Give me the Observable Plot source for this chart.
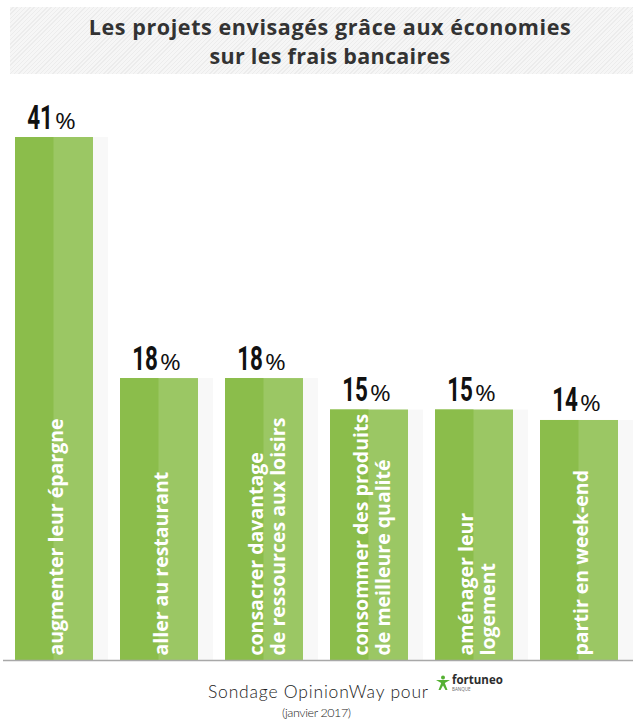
<!DOCTYPE html>
<html><head><meta charset="utf-8">
<script src="https://cdn.jsdelivr.net/npm/d3@7"></script>
<script src="https://cdn.jsdelivr.net/npm/@observablehq/plot@0.6"></script>
<style>
body{margin:0;background:#fff;}
#page{position:relative;width:633px;height:722px;overflow:hidden;background:#fff;}
#titlebox{position:absolute;left:10px;top:7px;width:623px;height:67px;background:repeating-linear-gradient(-45deg,#f6f6f6 0 2px,#ececec 2px 3px);}
#chart{position:absolute;left:0;top:80px;}
#overlay{position:absolute;left:0;top:0;pointer-events:none;}
</style></head>
<body><div id="page"><div id="titlebox"></div><div id="chart"></div><svg id="overlay" width="633" height="722"></svg></div>
<script>
const titleLines = ["Les projets envisagés grâce aux économies", "sur les frais bancaires"];
const categories = ["augmenter leur épargne", "aller au restaurant", "consacrer davantage\nde ressources aux loisirs", "consommer des produits\nde meilleure qualité", "aménager leur\nlogement", "partir en week-end"];
const values = [41, 18, 18, 15, 15, 14];
const unitLabel = "%";
const sourceText = "Sondage OpinionWay pour";
const brandText = "fortuneo";
const brandSub = "BANQUE";
const dateText = "(janvier 2017)";

const yBase = -8.9;
const data = categories.map((c, i) => ({cat: c, value: values[i]}));
// one row per label line, so each line is its own text element
const labelLines = categories.flatMap(c => {
  const parts = c.split("\n");
  return parts.map((t, j) => ({cat: c, text: t, slot: parts.length === 1 ? "single" : (j === 0 ? "first" : "second")}));
});

const numFont = 'Roboto,"DejaVu Sans",sans-serif';
const labFont = '"Open Sans",Lato,sans-serif';
const labStyle = {x: "cat", y: () => yBase, text: "text", rotate: -90, textAnchor: "start", lineAnchor: "middle", dy: -5, fontSize: 19.5, fontWeight: "bold", fontFamily: labFont, fill: "white"};

const chart = Plot.plot({
  width: 633, height: 590,
  marginTop: 57, marginBottom: 10, marginLeft: 13, marginRight: 12,
  x: {type: "band", domain: categories, paddingInner: 0.253, paddingOuter: 0, axis: null},
  y: {domain: [yBase, 41], axis: null},
  style: {background: "transparent"},
  marks: [
    Plot.barY(data, {x: "cat", y1: () => yBase, y2: "value", fill: "#f8f8f8", dx: 15}),
    Plot.barY(data, {x: "cat", y1: () => yBase, y2: "value", fill: "#9bc764"}),
    Plot.barY(data, {x: "cat", y1: () => yBase, y2: "value", fill: "#8bbd4b", insetRight: 39.5}),
    Plot.ruleY([yBase], {stroke: "#a8a8a8", strokeWidth: 1.5, insetLeft: -10, insetRight: -12}),
    Plot.text(data, {x: "cat", y: "value", text: d => String(d.value), textAnchor: "end", lineAnchor: "bottom", dy: -9, dx: -1.5, fontSize: 33, fontWeight: "bold", fontFamily: numFont, fill: "#111"}),
    Plot.text(data, {x: "cat", y: "value", text: () => unitLabel, textAnchor: "start", lineAnchor: "bottom", dy: -9, dx: 0.5, fontSize: 21, fontFamily: labFont, fill: "#111"}),
    Plot.text(labelLines.filter(d => d.slot === "single"), {...labStyle, dx: 2}),
    Plot.text(labelLines.filter(d => d.slot === "first"), {...labStyle, dx: -8}),
    Plot.text(labelLines.filter(d => d.slot === "second"), {...labStyle, dx: 14})
  ]
});
document.getElementById("chart").appendChild(chart);
// horizontal stretch about each text's anchor: condensed digits, wide percent sign (as in the original face)
function stretch(groupEl, sx) {
  d3.select(groupEl).selectAll("text").each(function() {
    const x = +(this.getAttribute("x") || 0), y = +(this.getAttribute("y") || 0);
    const tr = this.getAttribute("transform") || "";
    this.setAttribute("transform", `${tr} translate(${x},${y}) scale(${sx},1) translate(${-x},${-y})`.trim());
  });
}
const textGroups = chart.querySelectorAll('g[aria-label="text"]');
stretch(textGroups[0], 0.68);
stretch(textGroups[1], 1.2);

const ov = d3.select("#overlay");
ov.selectAll("text.t").data(titleLines).join("text")
  .attr("x", 330).attr("y", (d, i) => 35 + i * 29)
  .attr("text-anchor", "middle").attr("font-family", labFont).attr("font-weight", 700)
  .attr("font-size", 21.5).attr("letter-spacing", (d, i) => i ? 0.3 : 0.6).attr("fill", "#333").text(d => d);
ov.append("text").attr("x", 208).attr("y", 698).attr("font-family", 'Lato,"Open Sans",sans-serif')
  .attr("font-weight", 300).attr("font-size", 17.5).attr("letter-spacing", 0.8).attr("fill", "#222").text(sourceText);
// logo figure
const g = ov.append("g").attr("transform", "translate(443,683)").attr("fill", "#55b033");
g.append("circle").attr("cx", 0).attr("cy", -5.5).attr("r", 2);
g.append("path").attr("d", "M-7,-3 L7,-3 L1.8,0 L4.5,7 L2.5,7 L0,2.5 L-2.5,7 L-4.5,7 L-1.8,0 Z");
ov.append("text").attr("x", 452).attr("y", 684).attr("font-family", labFont).attr("font-weight", 700)
  .attr("font-size", 11.5).attr("fill", "#2d2d2d").text(brandText);
ov.append("text").attr("x", 452).attr("y", 691).attr("font-family", labFont)
  .attr("font-size", 4.5).attr("fill", "#666").text(brandSub);
ov.append("text").attr("x", 282).attr("y", 717).attr("font-family", 'Lato,"Open Sans",sans-serif')
  .attr("font-weight", 300).attr("font-size", 12.5).attr("letter-spacing", -0.4).attr("fill", "#222").text(dateText);
</script></body></html>
